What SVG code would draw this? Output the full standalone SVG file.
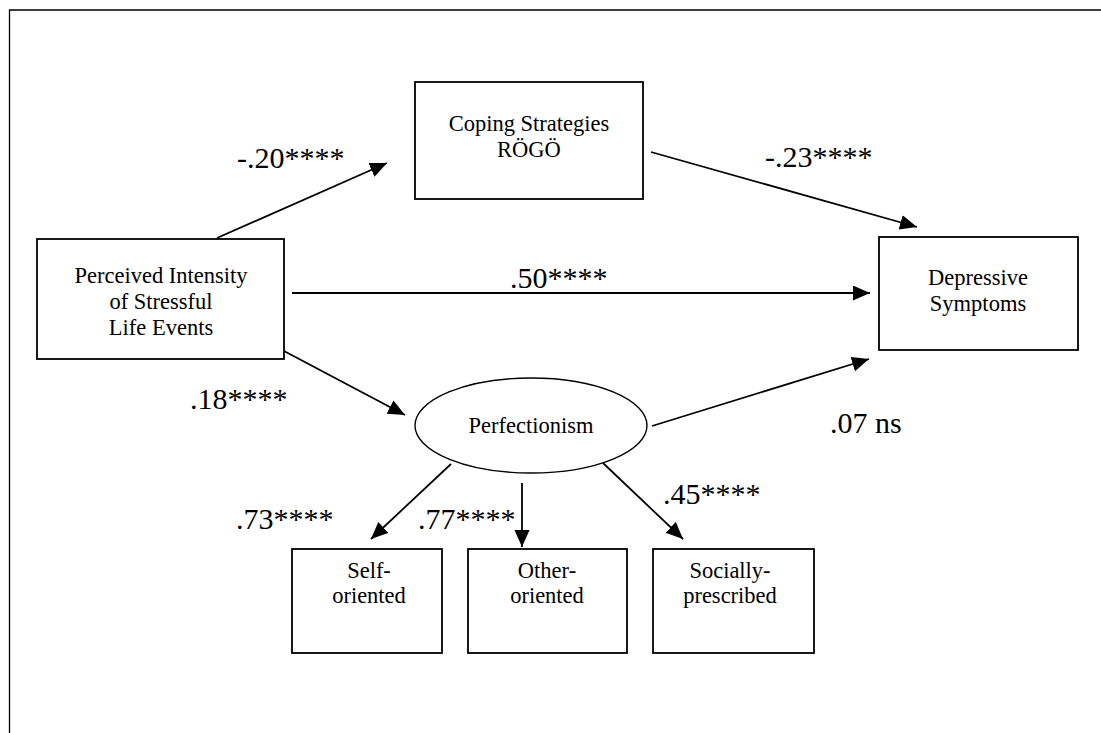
<svg xmlns="http://www.w3.org/2000/svg" width="1101" height="733" viewBox="0 0 1101 733">
<style>
.box{fill:#fff;stroke:#000;stroke-width:1.8}
.t{font-family:"Liberation Serif","Times New Roman",serif;font-size:22.5px;fill:#000;text-anchor:middle}
.lbl{font-family:"Liberation Serif","Times New Roman",serif;font-size:30px;fill:#000}
.c{stroke:#000;stroke-width:1.8;fill:none;marker-end:url(#ah)}
</style>
<defs>
<marker id="ah" markerUnits="userSpaceOnUse" markerWidth="19" markerHeight="16" refX="17" refY="7.5" orient="auto">
<path d="M0,0 L17,7.5 L0,15 z" fill="#000"/>
</marker>
</defs>
<rect width="1101" height="733" fill="#fff"/>
<path d="M9.5,733 V10 H1101" fill="none" stroke="#000" stroke-width="1.3"/>
<g id="connectors">
<line class="c" x1="217" y1="238" x2="387" y2="163"/>
<line class="c" x1="651" y1="152" x2="917" y2="227"/>
<line class="c" x1="292" y1="293" x2="870" y2="293"/>
<line class="c" x1="652" y1="426" x2="869" y2="359"/>
<line class="c" x1="284" y1="351" x2="405" y2="415"/>
<line class="c" x1="451" y1="464" x2="371" y2="539"/>
<line class="c" x1="522" y1="483" x2="522" y2="547"/>
<line class="c" x1="603" y1="463" x2="683" y2="539"/>
</g>
<g id="labels">
<text class="lbl" x="237" y="168">-.20****</text>
<text class="lbl" x="765" y="167">-.23****</text>
<text class="lbl" x="510" y="288">.50****</text>
<text class="lbl" x="190" y="409">.18****</text>
<text class="lbl" x="830" y="433">.07 ns</text>
<text class="lbl" x="236" y="529">.73****</text>
<text class="lbl" x="418" y="529">.77****</text>
<text class="lbl" x="663" y="504">.45****</text>
</g>
<g id="perceived">
<rect class="box" x="37" y="239" width="247" height="120"/>
<text class="t" x="161" y="283">Perceived Intensity</text>
<text class="t" x="161" y="309">of Stressful</text>
<text class="t" x="161" y="335">Life Events</text>
</g>
<g id="coping">
<rect class="box" x="415" y="82" width="228" height="117"/>
<text class="t" x="529" y="131">Coping Strategies</text>
<text class="t" x="529" y="157">RÖGÖ</text>
</g>
<g id="depressive">
<rect class="box" x="879" y="237" width="199" height="113"/>
<text class="t" x="978" y="285">Depressive</text>
<text class="t" x="978" y="311">Symptoms</text>
</g>
<g id="perfectionism">
<ellipse cx="531" cy="425.5" rx="116" ry="47.5" fill="#fff" stroke="#000" stroke-width="1.4"/>
<text class="t" x="531" y="433">Perfectionism</text>
</g>
<g id="self">
<rect class="box" x="292" y="549" width="150" height="104"/>
<text class="t" x="369" y="578">Self-</text>
<text class="t" x="369" y="603">oriented</text>
</g>
<g id="other">
<rect class="box" x="468" y="549" width="159" height="104"/>
<text class="t" x="547" y="578">Other-</text>
<text class="t" x="547" y="603">oriented</text>
</g>
<g id="social">
<rect class="box" x="653" y="549" width="161" height="104"/>
<text class="t" x="730" y="578">Socially-</text>
<text class="t" x="730" y="603">prescribed</text>
</g>
</svg>
